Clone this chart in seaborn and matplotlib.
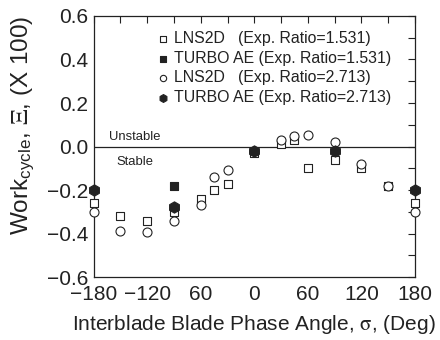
import numpy as np
import pandas as pd
import matplotlib
matplotlib.use("Agg")
import matplotlib.pyplot as plt
from matplotlib.ticker import MultipleLocator, FixedLocator, FixedFormatter, FuncFormatter
import seaborn as sns

# Interblade phase angles (deg)
phase_lns = [-180, -150, -120, -90, -60, -45, -30, 0, 30, 45, 60, 90, 120, 150, 180]
# LNS2D work per cycle, expansion ratio 1.531
lns_1531 = [-0.26, -0.32, -0.34, -0.30, -0.24, -0.20, -0.17, -0.03, 0.01, 0.03, -0.10, -0.06, -0.10, -0.18, -0.26]
# LNS2D work per cycle, expansion ratio 2.713
lns_2713 = [-0.30, -0.39, -0.395, -0.34, -0.27, -0.14, -0.11, -0.02, 0.03, 0.05, 0.055, 0.02, -0.08, -0.18, -0.30]
# TURBO AE, expansion ratio 1.531
phase_ta1 = [-90]
ta_1531 = [-0.18]
# TURBO AE, expansion ratio 2.713
phase_ta2 = [-180, -90, 0, 90, 180]
ta_2713 = [-0.20, -0.28, -0.02, -0.02, -0.20]

labels = ["LNS2D   (Exp. Ratio=1.531)", "TURBO AE (Exp. Ratio=1.531)",
          "LNS2D   (Exp. Ratio=2.713)", "TURBO AE (Exp. Ratio=2.713)"]

xtick_pos = [-180, -120, -60, 0, 60, 120, 180]
xtick_lbl = ["\u2212180", "\u2212120", "60", "0", "60", "120", "180"]

sns.set_theme(style="white")
plt.rcParams["font.family"] = ["Liberation Sans", "DejaVu Sans"]
plt.rcParams["mathtext.fontset"] = "stix"

fig = plt.figure(figsize=(4.4, 3.4), dpi=100)
ax = fig.add_axes([0.213, 0.185, 0.730, 0.768])

ink = "#222222"
series = [
    (phase_lns, lns_1531, "s", "white", labels[0], 36),
    (phase_ta1, ta_1531, "s", ink, labels[1], 36),
    (phase_lns, lns_2713, "o", "white", labels[2], 42),
    (phase_ta2, ta_2713, "h", ink, labels[3], 66),
]
for xs, ys, mk, fc, lab, sz in series:
    df = pd.DataFrame({"phase": xs, "work": ys})
    sns.scatterplot(data=df, x="phase", y="work", marker=mk, s=sz,
                    facecolor=fc, edgecolor=ink, linewidth=0.8,
                    label=lab, ax=ax, zorder=3, clip_on=False)

ax.axhline(0, color=ink, lw=0.9, zorder=2)

ax.set_xlim(-180, 180)
ax.set_ylim(-0.6, 0.6)
ax.xaxis.set_major_locator(FixedLocator(xtick_pos))
ax.xaxis.set_major_formatter(FixedFormatter(xtick_lbl))
ax.xaxis.set_minor_locator(MultipleLocator(30))
ax.yaxis.set_major_locator(MultipleLocator(0.2))
ax.yaxis.set_minor_locator(MultipleLocator(0.1))
ax.yaxis.set_major_formatter(FuncFormatter(
    lambda v, p: f"{v:.1f}".replace("-", "\u2212")))

ax.tick_params(which="both", direction="in", top=True, right=True,
               color=ink, width=0.8, labelsize=15, labelcolor=ink)
ax.tick_params(axis="y", pad=4)
ax.tick_params(axis="x", pad=5.5)
ax.tick_params(which="major", length=5)
ax.tick_params(which="minor", length=5)
for s in ax.spines.values():
    s.set_color(ink)
    s.set_linewidth(0.9)

ax.set_xlabel("Interblade Blade Phase Angle, $\\mathrm{\\sigma}$, (Deg)", fontsize=15,
              color=ink, labelpad=7)
ax.set_ylabel("Work$_{\\mathregular{cycle}}$, $\\mathrm{\\Xi}$, (X 100)", fontsize=17.5,
              color=ink)
ax.yaxis.set_label_coords(-0.18, 0.58)

ax.text(-134, 0.045, "Unstable", fontsize=9.4, color=ink, ha="center", va="center")
ax.text(-134, -0.07, "Stable", fontsize=9.4, color=ink, ha="center", va="center")

leg = ax.legend(loc="upper left", bbox_to_anchor=(0.17, 0.965), frameon=False,
                fontsize=11.4, handletextpad=0.25, labelspacing=0.28,
                markerscale=0.7, borderaxespad=0, handlelength=1.0)
for t in leg.get_texts():
    t.set_color(ink)

fig.savefig("out.png", dpi=100)
